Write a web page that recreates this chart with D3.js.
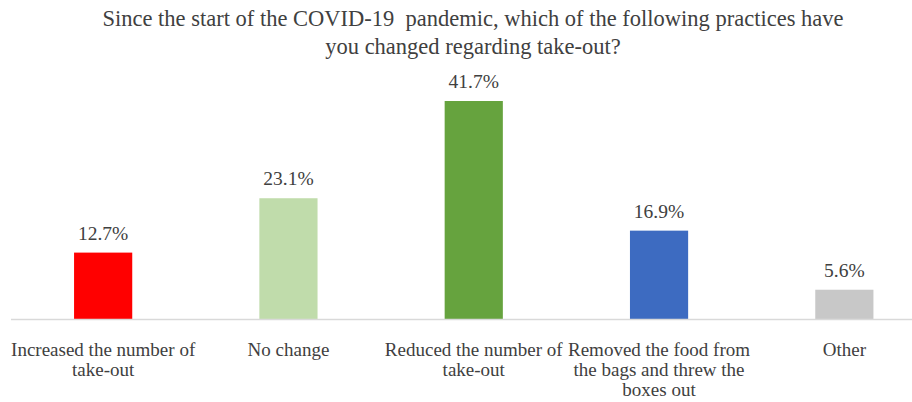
<!DOCTYPE html>
<html>
<head>
<meta charset="utf-8">
<script src="https://cdn.jsdelivr.net/npm/d3@7"></script>
</head>
<body style="margin:0;padding:0;background:#fff">
<svg id="chart" width="912" height="402" style="display:block"></svg>
<script>
const titleLines = ["Since the start of the COVID-19\u00a0 pandemic, which of the following practices have", "you changed regarding take-out?"];
const categories = ["Increased the number of\ntake-out", "No change", "Reduced the number of\ntake-out", "Removed the food from\nthe bags and threw the\nboxes out", "Other"];
const values = [12.7, 23.1, 41.7, 16.9, 5.6];
const colors = ["#FF0000", "#C0DCAB", "#66A33E", "#3D6BC1", "#C8C8C8"];

const FONT = '"Liberation Serif", "Times New Roman", serif';
const TXT = "#404040";
const svg = d3.select("#chart");
const baseY = 319;

const x = d3.scaleBand().domain(categories).range([10.5, 937]).paddingInner(0.686).paddingOuter(0.343);
const y = d3.scaleLinear().domain([0, 41.7]).range([baseY, 101]);

// title
svg.append("text")
  .attr("font-family", FONT).attr("fill", TXT)
  .attr("text-anchor", "middle")
  .style("font-size", "22.5px")
  .attr("x", 473).attr("y", 26)
  .selectAll("tspan").data(titleLines).join("tspan")
  .attr("x", 473).attr("dy", (d, i) => i === 0 ? 0 : 28)
  .text(d => d);

// bars
svg.selectAll("rect.bar").data(values).join("rect")
  .attr("class", "bar")
  .attr("x", (d, i) => x(categories[i]))
  .attr("width", x.bandwidth())
  .attr("y", d => y(d))
  .attr("height", d => baseY - y(d))
  .attr("fill", (d, i) => colors[i]);

// axis line
const axis = d3.axisBottom(x).tickSize(0).tickFormat("");
const ax = svg.append("g").attr("transform", `translate(0,${baseY})`).call(axis);
ax.select(".domain").attr("stroke", "#D9D9D9").attr("stroke-width", 1.3);

// value labels
svg.selectAll("text.val").data(values).join("text")
  .attr("class", "val")
  .attr("font-family", FONT).attr("fill", TXT)
  .attr("x", (d, i) => x(categories[i]) + x.bandwidth() / 2)
  .attr("y", d => y(d) - 13)
  .attr("text-anchor", "middle")
  .style("font-size", "19.5px")
  .text(d => d.toFixed(1) + "%");

// category labels
const cl = svg.selectAll("text.cat").data(categories).join("text")
  .attr("class", "cat")
  .attr("font-family", FONT).attr("fill", TXT)
  .attr("text-anchor", "middle")
  .style("font-size", "19px")
  .attr("y", 356);
cl.each(function(d) {
  const cx = x(d) + x.bandwidth() / 2;
  d3.select(this).selectAll("tspan").data(d.split("\n")).join("tspan")
    .attr("x", cx).attr("dy", (t, i) => i === 0 ? 0 : 20)
    .text(t => t);
});
</script>
</body>
</html>
